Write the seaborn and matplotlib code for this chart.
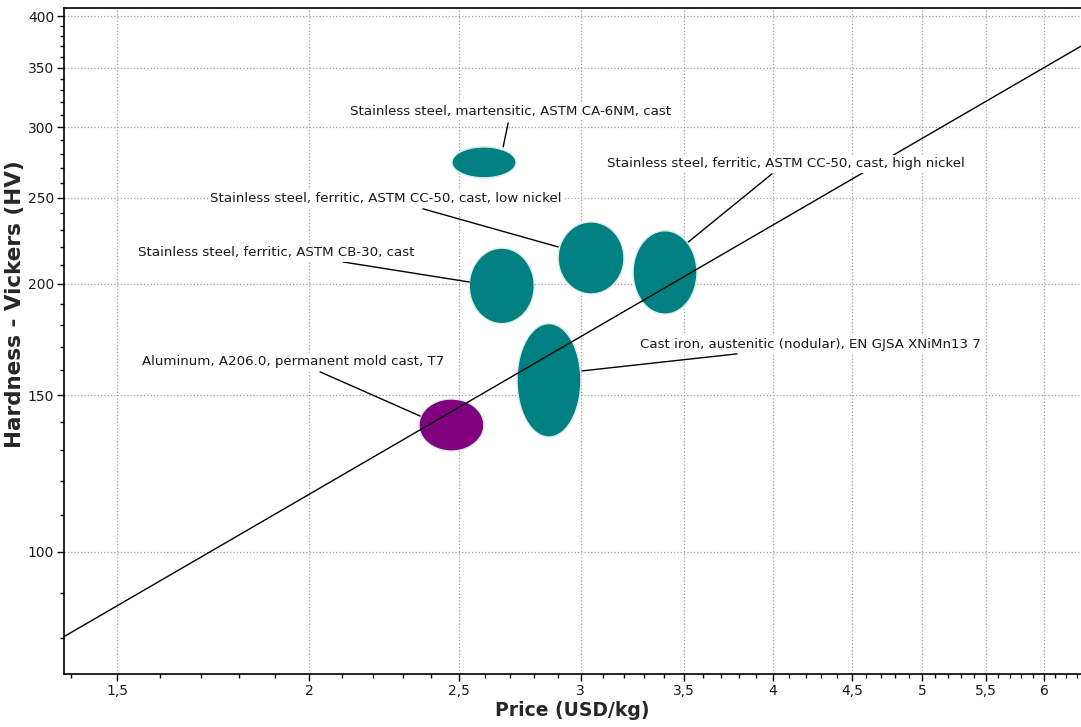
import numpy as np
import pandas as pd
import matplotlib
matplotlib.use("Agg")
import matplotlib.pyplot as plt
from matplotlib.ticker import FixedLocator, FuncFormatter, NullFormatter
import seaborn as sns

# --- DADOS ---
materials = [
    "Stainless steel, martensitic, ASTM CA-6NM, cast",
    "Stainless steel, ferritic, ASTM CB-30, cast",
    "Stainless steel, ferritic, ASTM CC-50, cast, low nickel",
    "Stainless steel, ferritic, ASTM CC-50, cast, high nickel",
    "Cast iron, austenitic (nodular), EN GJSA XNiMn13 7",
    "Aluminum, A206.0, permanent mold cast, T7",
]
price_low = [2.475, 2.540, 2.901, 3.245, 2.728, 2.356]
price_high = [2.724, 2.799, 3.201, 3.570, 3.001, 2.596]
hv_low = [263.2, 180.5, 194.9, 185.0, 134.6, 129.8]
hv_high = [285.1, 219.4, 234.8, 229.5, 180.5, 148.5]
colors = ["#008080", "#008080", "#008080", "#008080", "#008080", "#800080"]

# posição dos rótulos e das linhas de chamada
label_x = [2.703, 1.903, 2.243, 4.077, 4.227, 1.951]
label_y = [312.2, 216.7, 249.2, 272.8, 171.2, 163.5]
leader_x0 = [2.692, 2.103, 2.370, 3.994, 3.791, 2.032]
leader_y0 = [303.4, 211.7, 242.9, 265.9, 166.9, 159.3]
leader_x1 = [2.672, 2.540, 2.901, 3.524, 3.006, 2.360]
leader_y1 = [285.1, 201.0, 220.1, 222.9, 159.7, 142.1]

# linha guia (inclinação 1 em log-log)
guide_x = [1.3856, 6.34]
guide_y = [80.3, 370.0]

x_major = [1.5, 2, 2.5, 3, 3.5, 4, 4.5, 5, 5.5, 6]
y_major = [100, 150, 200, 250, 300, 350, 400]
x_minor = [v / 10 for v in range(14, 64)]
y_minor = list(range(80, 410, 10))


def main():
    sns.set_theme(style="ticks")
    plt.rcParams["font.family"] = ["DejaVu Sans"]

    fig = plt.figure(figsize=(10.81, 7.27), dpi=100)
    ax = fig.add_axes([64 / 1081, 1 - 674 / 727, 1 - 64 / 1081, (674 - 8) / 727])
    ax.set_xscale("log")
    ax.set_yscale("log")
    ax.set_xlim(1.3856, 6.34)
    ax.set_ylim(72.9, 408.4)

    # Elipses desenhadas em espaço log
    t = np.linspace(0, 2 * np.pi, 200)
    for i in range(len(materials)):
        lx0, lx1 = np.log10(price_low[i]), np.log10(price_high[i])
        ly0, ly1 = np.log10(hv_low[i]), np.log10(hv_high[i])
        cx, cy = (lx0 + lx1) / 2, (ly0 + ly1) / 2
        rx, ry = (lx1 - lx0) / 2, (ly1 - ly0) / 2
        ex = 10 ** (cx + rx * np.cos(t))
        ey = 10 ** (cy + ry * np.sin(t))
        ax.fill(ex, ey, color=colors[i], edgecolor="#d8ecec", lw=1.0, zorder=3)

    # linha guia
    df_guide = pd.DataFrame({"x": guide_x, "y": guide_y})
    sns.lineplot(data=df_guide, x="x", y="y", color="black", lw=1.0, ax=ax, zorder=5)

    # rótulos + linhas de chamada
    for i, name in enumerate(materials):
        ax.plot([leader_x0[i], leader_x1[i]], [leader_y0[i], leader_y1[i]],
                color="black", lw=1.0, zorder=4)
        ax.text(label_x[i], label_y[i], name, ha="center", va="center", fontsize=9.6,
                color="#1a1a1a", zorder=6,
                bbox=dict(facecolor="white", edgecolor="none", pad=1.5))

    # eixos e ticks
    fmt = FuncFormatter(lambda v, p: f"{v:g}".replace(".", ","))
    ax.xaxis.set_major_locator(FixedLocator(x_major))
    ax.xaxis.set_minor_locator(FixedLocator(x_minor))
    ax.yaxis.set_major_locator(FixedLocator(y_major))
    ax.yaxis.set_minor_locator(FixedLocator(y_minor))
    ax.xaxis.set_major_formatter(fmt)
    ax.yaxis.set_major_formatter(fmt)
    ax.xaxis.set_minor_formatter(NullFormatter())
    ax.yaxis.set_minor_formatter(NullFormatter())
    ax.tick_params(axis="both", which="major", length=5, width=1, labelsize=10,
                   direction="out", color="black", labelcolor="#1a1a1a", pad=2)
    ax.tick_params(axis="both", which="minor", length=3, width=1, direction="out",
                   color="black")

    ax.grid(True, which="major", linestyle=":", color="#a0a0a0", lw=0.9)
    for s in ["left", "bottom", "top"]:
        ax.spines[s].set_color("black")
        ax.spines[s].set_linewidth(1.2)
    ax.spines["right"].set_visible(False)

    ax.set_xlabel("Price (USD/kg)", fontsize=13.5, fontweight="bold", labelpad=2)
    ax.set_ylabel("Hardness - Vickers (HV)", fontsize=15.5, fontweight="bold")
    ax.yaxis.set_label_coords(-0.038, 0.556)

    fig.savefig("out.png", dpi=100)


if __name__ == "__main__":
    main()
